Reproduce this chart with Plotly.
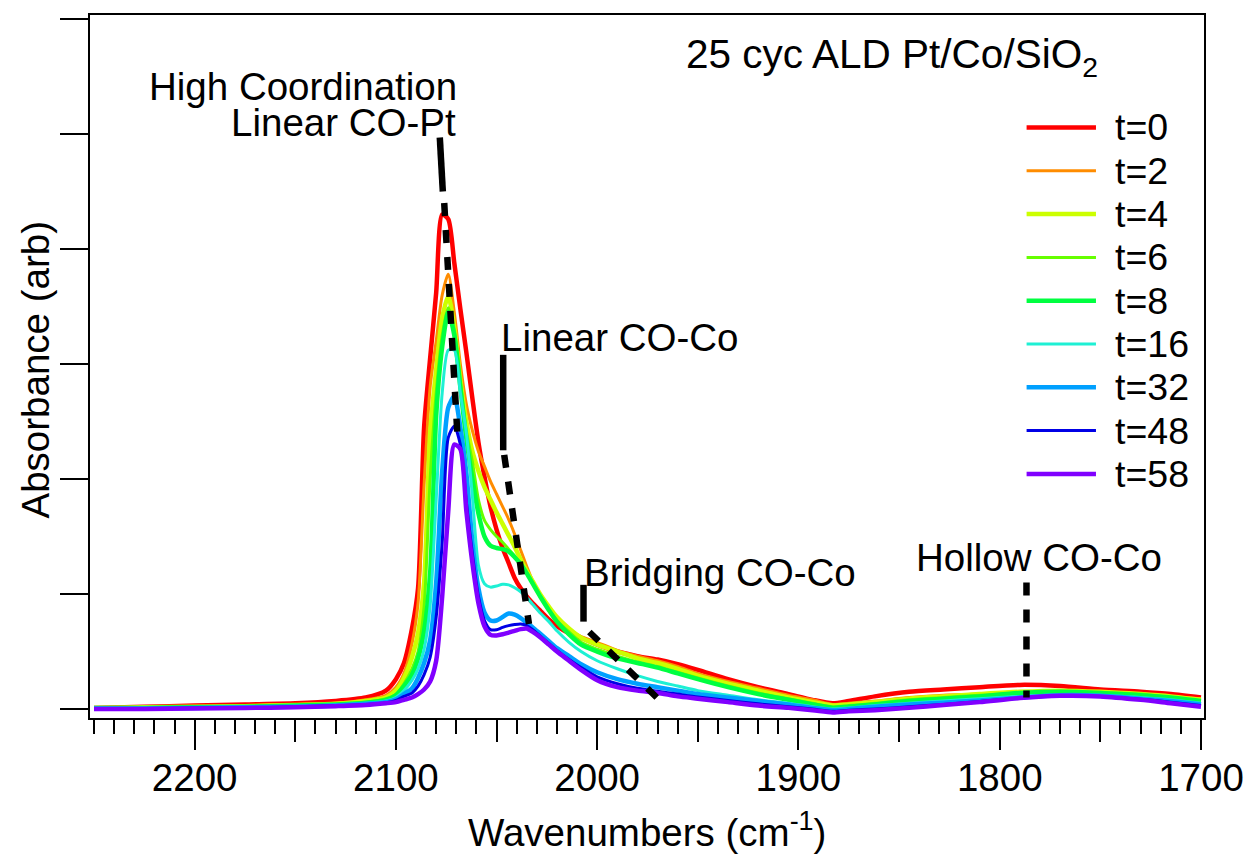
import plotly.graph_objects as go

# ---------------- data ----------------
WN = [2250, 2225, 2200, 2175, 2150, 2130, 2115, 2105, 2100, 2096,
      2092, 2089, 2086, 2083, 2080, 2077, 2074, 2071, 2068, 2065,
      2062, 2059, 2056, 2053, 2050, 2047, 2044, 2041, 2038, 2035,
      2032, 2028, 2024, 2020, 2014, 2008, 2000, 1990, 1980, 1970,
      1960, 1950, 1935, 1920, 1905, 1893, 1883, 1875, 1862, 1845,
      1828, 1810, 1790, 1770, 1750, 1730, 1715, 1700]

T0 = [0.01, 0.02, 0.03, 0.04, 0.05, 0.07, 0.10, 0.16, 0.26, 0.40,
      0.70, 1.05, 2.45, 3.05, 3.62, 4.30, 4.26, 3.88, 3.48, 3.10,
      2.70, 2.32, 2.02, 1.76, 1.56, 1.40, 1.27, 1.14, 1.05, 0.98,
      0.92, 0.85, 0.78, 0.72, 0.66, 0.62, 0.56, 0.50, 0.46, 0.43,
      0.39, 0.34, 0.26, 0.19, 0.13, 0.08, 0.05, 0.07, 0.11, 0.15,
      0.17, 0.19, 0.21, 0.20, 0.17, 0.15, 0.13, 0.10]

T2 = [0.01, 0.015, 0.02, 0.03, 0.04, 0.05, 0.08, 0.12, 0.19, 0.31,
      0.57, 0.92, 1.95, 2.80, 3.20, 3.60, 3.78, 3.45, 3.00, 2.65,
      2.42, 2.24, 2.11, 1.98, 1.87, 1.76, 1.65, 1.52, 1.38, 1.24,
      1.11, 0.98, 0.86, 0.77, 0.69, 0.63, 0.58, 0.51, 0.46, 0.42,
      0.37, 0.31, 0.24, 0.18, 0.12, 0.08, 0.04, 0.05, 0.07, 0.10,
      0.12, 0.13, 0.15, 0.16, 0.15, 0.13, 0.11, 0.09]

T4 = [0.01, 0.015, 0.02, 0.025, 0.035, 0.045, 0.07, 0.10, 0.16, 0.27,
      0.45, 0.66, 1.10, 2.40, 2.95, 3.40, 3.59, 3.32, 2.86, 2.50,
      2.24, 2.07, 1.93, 1.82, 1.71, 1.61, 1.51, 1.41, 1.30, 1.20,
      1.11, 0.99, 0.89, 0.80, 0.70, 0.62, 0.56, 0.50, 0.44, 0.40,
      0.35, 0.29, 0.22, 0.16, 0.10, 0.06, 0.03, 0.04, 0.06, 0.09,
      0.11, 0.13, 0.15, 0.16, 0.15, 0.13, 0.11, 0.08]

T6 = [0.01, 0.01, 0.015, 0.02, 0.03, 0.04, 0.06, 0.09, 0.13, 0.22,
      0.35, 0.50, 0.89, 2.00, 2.75, 3.25, 3.49, 3.30, 2.85, 2.42,
      2.15, 1.82, 1.64, 1.56, 1.50, 1.45, 1.39, 1.33, 1.26, 1.18,
      1.09, 0.97, 0.86, 0.77, 0.67, 0.58, 0.52, 0.46, 0.41, 0.37,
      0.32, 0.27, 0.20, 0.14, 0.09, 0.05, 0.02, 0.03, 0.05, 0.08,
      0.10, 0.12, 0.14, 0.155, 0.145, 0.13, 0.10, 0.07]

T8 = [0.01, 0.01, 0.015, 0.02, 0.03, 0.04, 0.055, 0.08, 0.12, 0.20,
      0.30, 0.44, 0.68, 1.18, 2.55, 3.15, 3.45, 3.25, 2.80, 2.35,
      2.00, 1.70, 1.50, 1.42, 1.40, 1.39, 1.37, 1.32, 1.26, 1.18,
      1.09, 0.97, 0.86, 0.76, 0.65, 0.56, 0.50, 0.44, 0.40, 0.36,
      0.31, 0.26, 0.19, 0.13, 0.08, 0.04, 0.01, 0.02, 0.04, 0.07,
      0.09, 0.11, 0.14, 0.15, 0.14, 0.12, 0.10, 0.07]

T16 = [0.005, 0.01, 0.01, 0.015, 0.025, 0.035, 0.05, 0.07, 0.10, 0.16,
       0.25, 0.35, 0.52, 0.90, 1.82, 2.75, 3.12, 3.12, 2.75, 2.40,
       1.85, 1.25, 1.09, 1.06, 1.07, 1.085, 1.08, 1.055, 1.02, 0.97,
       0.91, 0.83, 0.76, 0.68, 0.58, 0.50, 0.42, 0.35, 0.29, 0.24,
       0.20, 0.16, 0.12, 0.08, 0.05, 0.02, 0.00, 0.01, 0.03, 0.05,
       0.07, 0.09, 0.11, 0.125, 0.12, 0.10, 0.08, 0.05]

T32 = [0.005, 0.005, 0.01, 0.015, 0.02, 0.03, 0.045, 0.06, 0.085, 0.13,
       0.18, 0.27, 0.40, 0.60, 1.10, 2.07, 2.62, 2.72, 2.45, 2.05,
       1.45, 1.05, 0.84, 0.77, 0.77, 0.80, 0.83, 0.82, 0.79, 0.75,
       0.71, 0.65, 0.59, 0.53, 0.46, 0.39, 0.32, 0.26, 0.22, 0.19,
       0.16, 0.13, 0.10, 0.07, 0.04, 0.01, -0.01, 0.00, 0.02, 0.04,
       0.055, 0.075, 0.10, 0.12, 0.115, 0.09, 0.07, 0.04]

T48 = [0.0, 0.005, 0.01, 0.01, 0.02, 0.03, 0.04, 0.055, 0.075, 0.11,
       0.14, 0.20, 0.30, 0.45, 0.80, 1.45, 2.36, 2.46, 2.30, 1.80,
       1.35, 0.98, 0.77, 0.69, 0.69, 0.71, 0.725, 0.735, 0.74, 0.725,
       0.69, 0.63, 0.57, 0.51, 0.43, 0.36, 0.28, 0.22, 0.18, 0.155,
       0.13, 0.105, 0.075, 0.045, 0.02, 0.0, -0.02, -0.01, 0.0, 0.02,
       0.04, 0.065, 0.095, 0.115, 0.11, 0.085, 0.06, 0.03]

T58 = [0.0, 0.0, 0.005, 0.01, 0.015, 0.025, 0.035, 0.05, 0.06, 0.08,
       0.10, 0.13, 0.17, 0.24, 0.42, 0.98, 1.72, 2.30, 2.26, 1.72,
       1.27, 0.92, 0.72, 0.645, 0.64, 0.65, 0.665, 0.68, 0.695, 0.70,
       0.67, 0.62, 0.56, 0.50, 0.42, 0.34, 0.25, 0.19, 0.16, 0.14,
       0.11, 0.09, 0.06, 0.03, 0.01, -0.01, -0.03, -0.02, -0.01, 0.01,
       0.035, 0.06, 0.095, 0.115, 0.11, 0.08, 0.05, 0.02]

SERIES_NAMES = ["t=0", "t=2", "t=4", "t=6", "t=8", "t=16", "t=32", "t=48", "t=58"]
SERIES_VALUES = [T0, T2, T4, T6, T8, T16, T32, T48, T58]
SERIES_COLORS = ["#FF0000", "#FF8C00", "#CCFF00", "#66FF00", "#00FF40",
                 "#1EF0D4", "#00A0FF", "#0000E6", "#8000FF"]
SERIES_WIDTHS = [4.5, 3, 4.5, 3, 4.5, 3, 4.5, 3, 4.5]

X_TICKS = [2200, 2100, 2000, 1900, 1800, 1700]
X_MID_TICKS = [2150, 2050, 1950, 1850, 1750]
Y_TICKS = [0, 1, 2, 3, 4, 5, 6]

# peak-assignment guide lines: (x0, y0, x1, y1, dashed?)
GUIDES = [
    (2078.2, 4.97, 2076.7, 4.50, False),
    (2076.0, 4.40, 2069.3, 2.34, True),
    (2046.7, 3.08, 2046.7, 2.25, False),
    (2046.2, 2.21, 2033.9, 0.74, True),
    (2006.8, 1.08, 2006.8, 0.76, False),
    (2003.9, 0.67, 1970.4, 0.10, True),
    (1786.7, 1.10, 1786.7, 0.10, True),
]

# text labels: (text, x, y, xanchor)
LABELS = [
    ("High Coordination", 2068.8, 5.41, "right"),
    ("Linear CO-Pt", 2069.0, 5.10, "right"),
    ("Linear CO-Co", 2048.7, 3.23, "left"),
    ("Bridging CO-Co", 2007.5, 1.19, "left"),
    ("Hollow CO-Co", 1780.3, 1.32, "center"),
]
TITLE = "25 cyc ALD Pt/Co/SiO<sub>2</sub>"

FONT = "Liberation Sans, Arial, Helvetica, sans-serif"
FS = 38.5
FS_LEG = 37.5

# ---------------- figure ----------------
fig = go.Figure()
for name, ys, col, w in zip(SERIES_NAMES, SERIES_VALUES, SERIES_COLORS, SERIES_WIDTHS):
    fig.add_trace(go.Scatter(x=WN, y=ys, mode="lines", name=name,
                             line=dict(color=col, width=w, shape="spline", smoothing=0.7),
                             showlegend=False, hoverinfo="skip"))

# invisible trace to hold the medium-tick axis
fig.add_trace(go.Scatter(x=[2000], y=[0], xaxis="x2", mode="markers",
                         marker=dict(opacity=0), showlegend=False, hoverinfo="skip"))

shapes = []
for x0, y0, x1, y1, dashed in GUIDES:
    shapes.append(dict(type="line", xref="x", yref="y", x0=x0, y0=y0, x1=x1, y1=y1,
                       line=dict(color="black", width=6.5,
                                 dash="13px,14px" if dashed else "solid")))

annotations = []
for text, x, y, xa in LABELS:
    annotations.append(dict(text=text, x=x, y=y, xref="x", yref="y", xanchor=xa,
                            yanchor="middle", showarrow=False,
                            font=dict(family=FONT, size=FS, color="black")))
annotations.append(dict(text=TITLE, x=1853.6, y=5.67, xref="x", yref="y",
                        xanchor="center", yanchor="middle", showarrow=False,
                        font=dict(family=FONT, size=40.5, color="black")))

# custom legend (paper coordinates)
PLOT_L, PLOT_W, PLOT_B, PLOT_H = 90, 1124, 718, 703
for i, (name, col, w) in enumerate(zip(SERIES_NAMES, SERIES_COLORS, SERIES_WIDTHS)):
    py = 127.5 + i * 43.3
    yp = (PLOT_B - py) / PLOT_H
    shapes.append(dict(type="line", xref="paper", yref="paper",
                       x0=(1035 - PLOT_L) / PLOT_W, x1=(1105 - PLOT_L) / PLOT_W,
                       y0=yp, y1=yp, line=dict(color=col, width=w)))
    annotations.append(dict(text=name, x=(1122 - PLOT_L) / PLOT_W, y=yp,
                            xref="paper", yref="paper", xanchor="left", yanchor="middle",
                            showarrow=False, font=dict(family=FONT, size=FS_LEG, color="black")))

# axis titles
annotations.append(dict(text="Wavenumbers (cm<sup>-1</sup>)", x=0.5, y=-0.16,
                        xref="paper", yref="paper", xanchor="center", yanchor="middle",
                        showarrow=False, font=dict(family=FONT, size=FS, color="black")))
annotations.append(dict(text="Absorbance (arb)", x=(35 - PLOT_L) / PLOT_W, y=0.495,
                        xref="paper", yref="paper", xanchor="center", yanchor="middle",
                        textangle=-90, showarrow=False,
                        font=dict(family=FONT, size=FS, color="black")))

XR = [2252, 1698.5]
fig.update_layout(
    width=1256, height=857,
    margin=dict(l=90, r=42, t=15, b=139),
    paper_bgcolor="white", plot_bgcolor="white",
    font=dict(family=FONT, size=FS, color="black"),
    shapes=shapes, annotations=annotations,
    xaxis=dict(range=XR, autorange=False, tickmode="array", tickvals=X_TICKS,
               ticks="outside", ticklen=30, tickwidth=2, tickcolor="black",
               showline=True, linewidth=2, linecolor="black", mirror=True,
               showgrid=False, zeroline=False, ticklabelstandoff=-5,
               tickfont=dict(family=FONT, size=FS, color="black"),
               minor=dict(tickmode="linear", tick0=1700, dtick=10, ticks="outside",
                          ticklen=14, tickwidth=2, tickcolor="black", showgrid=False)),
    xaxis2=dict(range=XR, autorange=False, overlaying="x", anchor="y", side="bottom",
                tickmode="array", tickvals=X_MID_TICKS, ticks="outside", ticklen=23,
                tickwidth=2, tickcolor="black", showticklabels=False,
                showline=False, showgrid=False, zeroline=False),
    yaxis=dict(range=[-0.078, 6.035], autorange=False, tickmode="array", tickvals=Y_TICKS,
               ticks="outside", ticklen=28, tickwidth=2, tickcolor="black",
               showticklabels=False, showline=True, linewidth=2, linecolor="black",
               mirror=True, showgrid=False, zeroline=False),
)

fig.write_html("out.html")
